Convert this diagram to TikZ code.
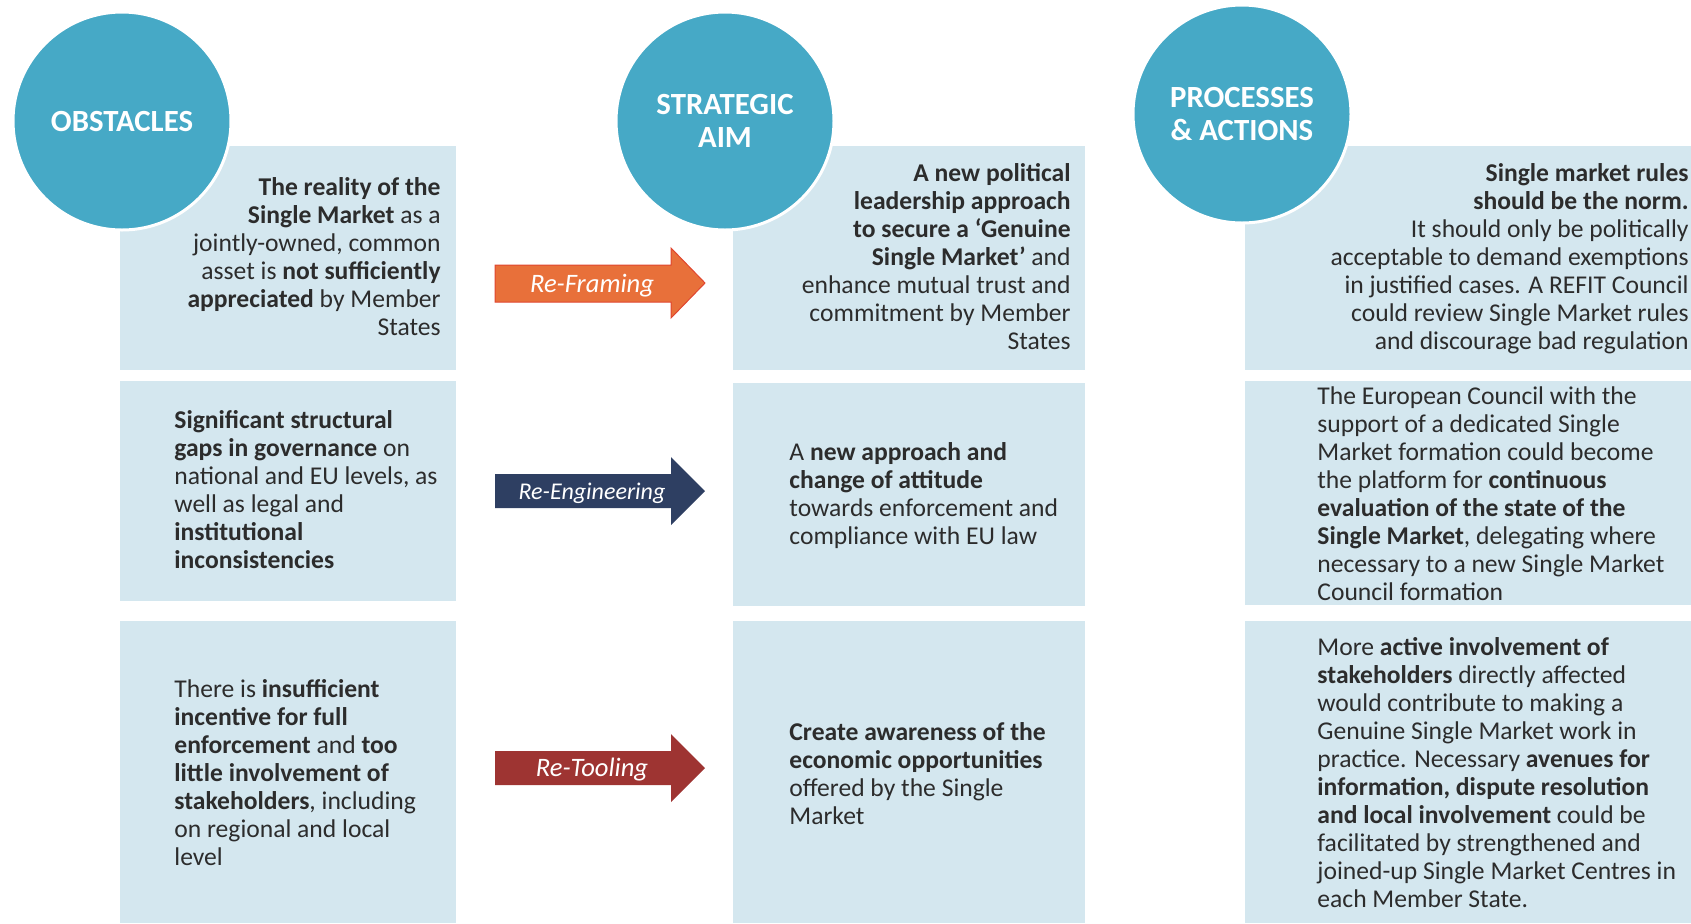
\documentclass[tikz,border=0pt]{standalone}
\usepackage{fontspec}
\setmainfont{Carlito}
\definecolor{circblue}{HTML}{46A9C6}
\definecolor{cellblue}{HTML}{D4E7EF}
\definecolor{framefill}{HTML}{E8703A}
\definecolor{frameline}{HTML}{E0462F}
\definecolor{engfill}{HTML}{2E3F62}
\definecolor{toolfill}{HTML}{9E3432}
\definecolor{txtdark}{HTML}{2C2C2C}
\newcommand\cellfont{\fontsize{12.8}{14}\selectfont}
\newcommand\headfont{\fontsize{15.4}{16.75}\selectfont\bfseries}

\begin{document}
\begin{tikzpicture}[x=0.5pt,y=-0.5pt,
    head/.style={circle,fill=circblue,draw=white,line width=1.5pt,minimum size=109pt,
      inner sep=0pt,text=white,font=\headfont,align=center},
    cell/.style={fill=cellblue},
    lefttext/.style={anchor=north west,inner sep=0pt,align=left,text=txtdark,font=\cellfont},
    righttext/.style={anchor=north east,inner sep=0pt,align=right,text=txtdark,font=\cellfont},
    arrowtext/.style={text=white,inner sep=0pt,font={\fontsize{13.3}{15}\selectfont\itshape}}]
    \useasboundingbox (0,0) rectangle (1691,923);

    % cells
    \fill[cell] (120,146) rectangle (456,370);
    \fill[cell] (120,381) rectangle (456,601);
    \fill[cell] (120,621) rectangle (456,923);
    \fill[cell] (733,146) rectangle (1085,370);
    \fill[cell] (733,383) rectangle (1085,606);
    \fill[cell] (733,621) rectangle (1085,923);
    \fill[cell] (1245,146) rectangle (1691,370);
    \fill[cell] (1245,381) rectangle (1691,605);
    \fill[cell] (1245,621) rectangle (1691,923);

    % column heads
    \node[head] (obstacles) at (122,121) {OBSTACLES};
    \node[head] (aim) at (725,121) {STRATEGIC\\AIM};
    \node[head] (actions) at (1242,114) {PROCESSES\\\& ACTIONS};

    % obstacles
    \node[righttext] (obst1) at (441,177) {\textbf{The reality of the}\\
        \textbf{Single Market} as a\\
        jointly-owned, common\\
        asset is \textbf{not sufficiently}\\
        \textbf{appreciated} by Member\\
        States};
    \node[lefttext] (obst2) at (174,410) {\textbf{Significant structural}\\
        \textbf{gaps in governance} on\\
        national and EU levels, as\\
        well as legal and\\
        \textbf{institutional}\\
        \textbf{inconsistencies}};
    \node[lefttext] (obst3) at (174,679) {There is \textbf{insufficient}\\
        \textbf{incentive for full}\\
        \textbf{enforcement} and \textbf{too}\\
        \textbf{little involvement of}\\
        \textbf{stakeholders}, including\\
        on regional and local\\
        level};

    % strategic aim
    \node[righttext] (aim1) at (1071,163) {\textbf{A new political}\\
        \textbf{leadership approach}\\
        \textbf{to secure a ‘Genuine}\\
        \textbf{Single Market’} and\\
        enhance mutual trust and\\
        commitment by Member\\
        States};
    \node[lefttext] (aim2) at (789,442) {A \textbf{new approach and}\\
        \textbf{change of attitude}\\
        towards enforcement and\\
        compliance with EU law};
    \node[lefttext] (aim3) at (789,722) {\textbf{Create awareness of the}\\
        \textbf{economic opportunities}\\
        offered by the Single\\
        Market};

    % processes and actions
    \node[righttext] (act1) at (1689,163) {\textbf{Single market rules}\\
        \textbf{should be the norm.}\\
        It should only be politically\\
        acceptable to demand exemptions\\
        in justified cases. A REFIT Council\\
        could review Single Market rules\\
        and discourage bad regulation};
    \node[lefttext] (act2) at (1317,386) {The European Council with the\\
        support of a dedicated Single\\
        Market formation could become\\
        the platform for \textbf{continuous}\\
        \textbf{evaluation of the state of the}\\
        \textbf{Single Market}, delegating where\\
        necessary to a new Single Market\\
        Council formation};
    \node[lefttext] (act3) at (1317,637) {More \textbf{active involvement of}\\
        \textbf{stakeholders} directly affected\\
        would contribute to making a\\
        Genuine Single Market work in\\
        practice. Necessary \textbf{avenues for}\\
        \textbf{information, dispute resolution}\\
        \textbf{and local involvement} could be\\
        facilitated by strengthened and\\
        joined-up Single Market Centres in\\
        each Member State.};

    % block arrows
    \filldraw[fill=framefill,draw=frameline,line width=0.5pt] (495,265) -- (671,265) -- (671,248) -- (705,283)
        -- (671,318) -- (671,302) -- (495,302) -- cycle;
    \node[arrowtext] (reframing) at (592,286) {Re-Framing};
    \fill[engfill] (495,474) -- (671,474) -- (671,457) -- (705,491)
        -- (671,525) -- (671,508) -- (495,508) -- cycle;
    \node[arrowtext,font={\fontsize{12}{14}\selectfont\itshape}] (reengineering) at (592,493) {Re-Engineering};
    \fill[toolfill] (495,751) -- (671,751) -- (671,734) -- (705,768)
        -- (671,802) -- (671,785) -- (495,785) -- cycle;
    \node[arrowtext] (retooling) at (592,770) {Re-Tooling};
\end{tikzpicture}
\end{document}
